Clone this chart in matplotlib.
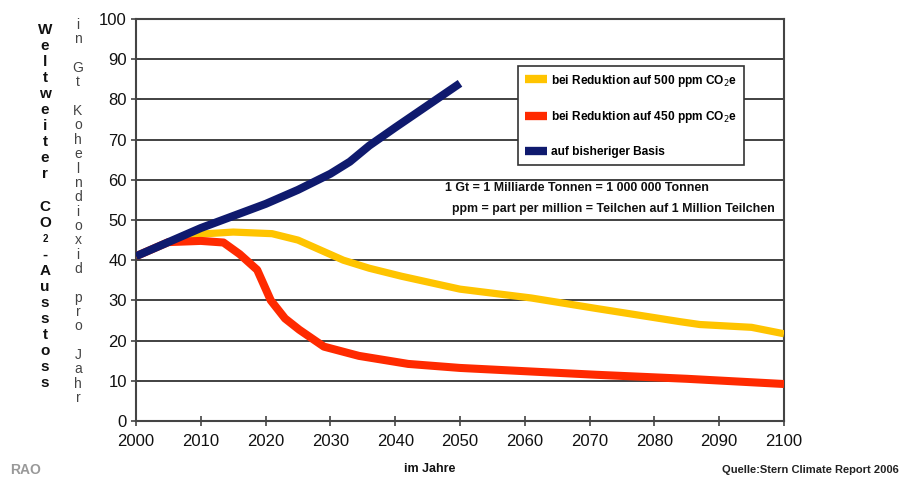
import matplotlib
matplotlib.use("Agg")
import matplotlib.pyplot as plt

plt.rcParams['font.family'] = ['Liberation Sans', 'DejaVu Sans']

years_base = [2000, 2005, 2010, 2015, 2020, 2025, 2030, 2033, 2036, 2040, 2045, 2050]
base = [41, 44.5, 48, 51, 54, 57.5, 61.5, 64.5, 68.5, 73, 78.5, 84]

years_500 = [2000, 2005, 2010, 2015, 2021, 2025, 2032, 2036, 2041, 2050, 2061, 2071, 2084, 2087, 2095, 2100]
red_500 = [41, 44.5, 46.5, 47, 46.6, 45, 40, 38, 36, 32.8, 30.6, 28, 24.7, 24, 23.3, 21.7]

years_450 = [2000, 2005, 2010, 2013.5, 2016, 2018.7, 2020.8, 2023, 2025.2, 2029, 2034.4, 2042, 2050, 2071, 2085, 2100]
red_450 = [41, 44.5, 44.8, 44.4, 41.5, 37.6, 30, 25.5, 22.7, 18.5, 16.2, 14.2, 13.2, 11.5, 10.5, 9.2]

x_ticks = [2000, 2010, 2020, 2030, 2040, 2050, 2060, 2070, 2080, 2090, 2100]
y_ticks = [0, 10, 20, 30, 40, 50, 60, 70, 80, 90, 100]

label_500 = 'bei Reduktion auf 500 ppm CO$_2$e'
label_450 = 'bei Reduktion auf 450 ppm CO$_2$e'
label_base = 'auf bisheriger Basis'

W, H = 911, 479
fig = plt.figure(figsize=(W / 100, H / 100), dpi=100)
ax = fig.add_axes([136 / W, 1 - 421 / H, (784 - 136) / W, (421 - 19) / H])

ax.plot(years_500, red_500, color='#ffc400', lw=5.2, solid_capstyle='butt', zorder=3, label=label_500)
ax.plot(years_450, red_450, color='#ff2a00', lw=5.8, solid_capstyle='butt', zorder=4, label=label_450)
ax.plot(years_base, base, color='#0f1a6e', lw=5.8, solid_capstyle='butt', zorder=5, label=label_base)

ax.set_xlim(2000, 2100)
ax.set_ylim(0, 100)
ax.set_xticks(x_ticks)
ax.set_yticks(y_ticks)
ax.yaxis.grid(True, color='#333333', lw=1.3)
ax.set_axisbelow(True)
for s in ax.spines.values():
    s.set_color('#444444')
    s.set_linewidth(1.5)
ax.tick_params(axis='both', direction='inout', length=7, width=1.2, color='#444444',
               labelsize=12, labelcolor='#111111')
ax.tick_params(axis='x', pad=6)
ax.tick_params(axis='y', pad=3)

leg = ax.legend(loc='upper left', bbox_to_anchor=((518 - 136) / 648, 1 - (66 - 19) / 402),
                borderaxespad=0, frameon=True, fancybox=False, edgecolor='#333333', framealpha=1,
                prop={'weight': 'bold', 'size': 8.6}, handlelength=1.9, handletextpad=0.35,
                labelspacing=1.75, borderpad=0.55)
leg.get_frame().set_linewidth(1.2)
for h in leg.legend_handles:
    h.set_linewidth(6)

ax.text((445 - 136) / 648, 1 - (199 - 19) / 402,
        '1 Gt = 1 Milliarde Tonnen = 1 000 000 Tonnen\n  ppm = part per million = Teilchen auf 1 Million Teilchen',
        transform=ax.transAxes, fontsize=8.9, fontweight='bold', va='center', ha='left',
        linespacing=2.0, color='#111111')

# Stacked vertical labels
lab1 = 'Weltweiter CO₂-Ausstoss'
y0, step = 30, 16.05
for i, ch in enumerate(lab1):
    if ch == ' ':
        continue
    size = 7 if ch == '₂' else 11
    c = '2' if ch == '₂' else ch
    fig.text(45 / W, 1 - (y0 + i * step) / H, c, ha='center', va='center',
             fontsize=size, fontweight='bold', color='#111111')

lab2 = 'in Gt Kohelndioxid pro Jahr'
y0, step = 25, 14.35
for i, ch in enumerate(lab2):
    if ch == ' ':
        continue
    fig.text(78 / W, 1 - (y0 + i * step) / H, ch, ha='center', va='center',
             fontsize=10, color='#444444')

fig.text(430 / W, 1 - 469 / H, 'im Jahre', ha='center', va='center',
         fontsize=9, fontweight='bold', color='#111111')
fig.text(722 / W, 1 - 470 / H, 'Quelle:Stern Climate Report 2006', ha='left', va='center',
         fontsize=8, fontweight='bold', color='#222222')
fig.text(10 / W, 1 - 470 / H, 'RAO', ha='left', va='center',
         fontsize=10, fontweight='bold', color='#999999')

fig.savefig('out.png', dpi=100)
